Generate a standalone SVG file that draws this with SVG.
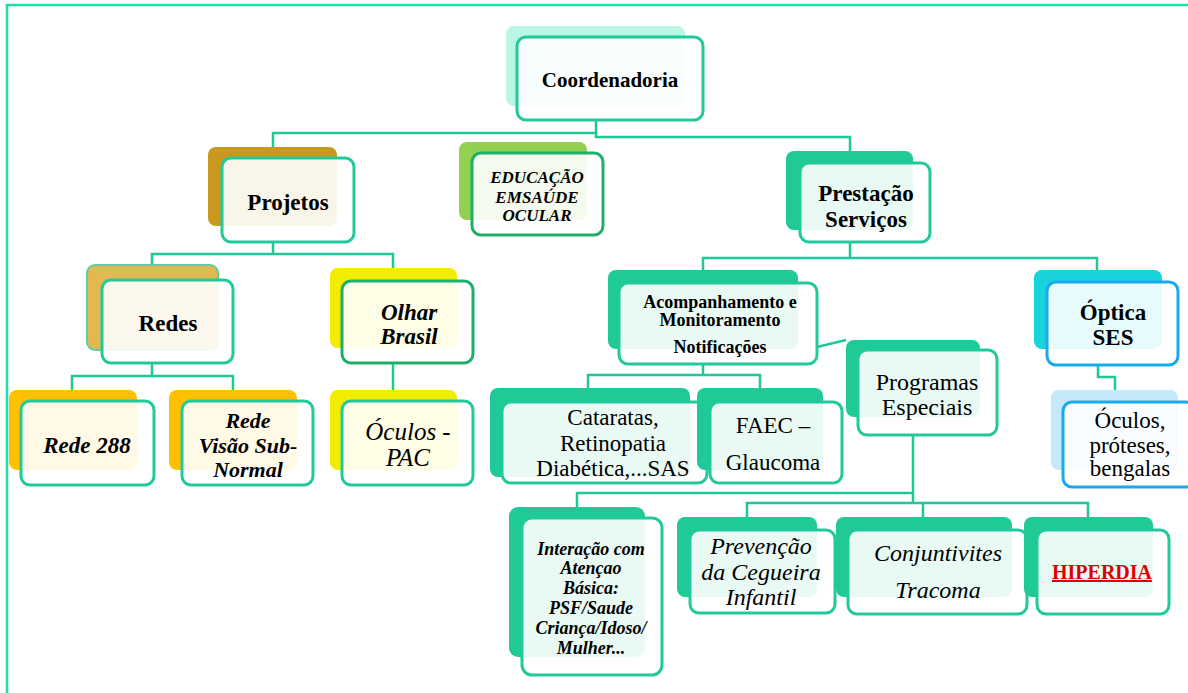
<svg xmlns="http://www.w3.org/2000/svg" width="1188" height="693" viewBox="0 0 1188 693" font-family="'Liberation Serif', 'Times New Roman', 'DejaVu Serif', serif">
<style>
.bg{stroke:none}
.fr{fill:#fff;fill-opacity:.9;stroke:#22c99a;stroke-width:3}
.frg{fill:#fff;fill-opacity:.9;stroke:#1cb06c;stroke-width:3}
.frb{fill:#fff;fill-opacity:.9;stroke:#1aa8ee;stroke-width:3}
.cn{fill:none;stroke:#1fc896;stroke-width:2.5}
.t{font-family:'Liberation Serif','Times New Roman','DejaVu Serif',serif;fill:#000;text-anchor:middle}
.bd{font-weight:bold}
.it{font-style:italic}
.red{fill:#e00000}
</style>
<rect width="1188" height="693" fill="#fff"/>
<path d="M7,693 V5 H1188" fill="none" stroke="#1de0a8" stroke-width="2.5"/>
<g id="connectors">
<path class="cn" d="M596,120 V133 H273 V148 M596,133 V137 H850 V152"/>
<path class="cn" d="M273,242 V254 M152,266 V254 H393 V268"/>
<path class="cn" d="M850,242 V258 M703,271 V258 H1097 V271"/>
<path class="cn" d="M152,363 V376 M72,391 V376 H233 V391"/>
<path class="cn" d="M393,363 V391"/>
<path class="cn" d="M703,364 V375 M588,389 V375 H760 V389"/>
<path class="cn" d="M817,347 L846,340"/>
<path class="cn" d="M1098,365 V377 H1115 V391"/>
<path class="cn" d="M913,435 V503 M577,508 V493 H913 M747,518 V503 H1088 V518 M923,503 V518"/>
</g>
<g id="coordenadoria">
<rect class="bg" x="506" y="26" width="179" height="80" rx="8" fill="#b9f6e5"/>
<rect class="fr" x="517" y="37" width="186" height="83" rx="9"/>
<text class="t bd" x="610" y="87" font-size="21">Coordenadoria</text>
</g>
<g id="projetos">
<rect class="bg" x="208" y="147" width="129" height="79" rx="8" fill="#c9981f"/>
<rect class="fr" x="222" y="158" width="132" height="84" rx="9"/>
<text class="t bd" x="288" y="210" font-size="23">Projetos</text>
</g>
<g id="educacao">
<rect class="bg" x="459" y="142" width="128" height="78" rx="8" fill="#92d050"/>
<rect class="frg" x="472" y="153" width="131" height="82" rx="9"/>
<text class="t bd it" x="537" y="183" font-size="17">EDUCAÇÃO</text>
<text class="t bd it" x="537" y="203" font-size="17" word-spacing="-4">EM SAÚDE</text>
<text class="t bd it" x="537" y="221" font-size="17">OCULAR</text>
</g>
<g id="prestacao">
<rect class="bg" x="786" y="151" width="127" height="79" rx="8" fill="#1fca96"/>
<rect class="fr" x="800" y="163" width="130" height="79" rx="9"/>
<text class="t bd" x="866" y="201" font-size="23">Prestação</text>
<text class="t bd" x="866" y="227" font-size="23">Serviços</text>
</g>
<g id="redes">
<rect x="87" y="265" width="131" height="85" rx="8" fill="#e2b850" stroke="#5fcf9f" stroke-width="2"/>
<rect class="fr" x="102" y="280" width="131" height="83" rx="9"/>
<text class="t bd" x="168" y="331" font-size="23">Redes</text>
</g>
<g id="olhar-brasil">
<rect class="bg" x="330" y="268" width="127" height="80" rx="8" fill="#f2ec00"/>
<rect class="frg" x="342" y="281" width="131" height="82" rx="9"/>
<text class="t bd it" x="409" y="320" font-size="23">Olhar</text>
<text class="t bd it" x="409" y="344" font-size="23">Brasil</text>
</g>
<g id="rede-288">
<rect class="bg" x="9" y="390" width="128" height="80" rx="8" fill="#ffc000"/>
<rect class="fr" x="21" y="401" width="133" height="84" rx="9"/>
<text class="t bd it" x="87" y="453" font-size="23">Rede 288</text>
</g>
<g id="rede-visao">
<rect class="bg" x="169" y="390" width="128" height="80" rx="8" fill="#ffc000"/>
<rect class="fr" x="182" y="401" width="131" height="84" rx="9"/>
<text class="t bd it" x="248" y="428" font-size="22">Rede</text>
<text class="t bd it" x="248" y="453" font-size="22">Visão Sub-</text>
<text class="t bd it" x="248" y="477" font-size="22">Normal</text>
</g>
<g id="oculos-pac">
<rect class="bg" x="330" y="390" width="127" height="80" rx="8" fill="#f2ec00"/>
<rect class="fr" x="342" y="401" width="131" height="84" rx="9"/>
<text class="t it" x="408" y="440" font-size="25">Óculos -</text>
<text class="t it" x="408" y="466" font-size="25">PAC</text>
</g>
<g id="acompanhamento">
<rect class="bg" x="608" y="270" width="190" height="79" rx="8" fill="#1fca96"/>
<rect class="fr" x="619" y="283" width="198" height="81" rx="9"/>
<text class="t bd" x="720" y="308" font-size="18">Acompanhamento e</text>
<text class="t bd" x="720" y="326" font-size="18">Monitoramento</text>
<text class="t bd" x="720" y="353" font-size="18">Notificações</text>
</g>
<g id="cataratas">
<rect class="bg" x="490" y="388" width="200" height="89" rx="8" fill="#1fca96"/>
<rect class="fr" x="502" y="402" width="205" height="81" rx="9"/>
<text class="t" x="613" y="425" font-size="23">Cataratas,</text>
<text class="t" x="613" y="451" font-size="23">Retinopatia</text>
<text class="t" x="613" y="476" font-size="23">Diabética,...SAS</text>
</g>
<g id="faec">
<rect class="bg" x="697" y="388" width="126" height="82" rx="8" fill="#1fca96"/>
<rect class="fr" x="710" y="402" width="132" height="81" rx="9"/>
<text class="t" x="773" y="433" font-size="23">FAEC –</text>
<text class="t" x="773" y="470" font-size="23">Glaucoma</text>
</g>
<g id="programas">
<rect class="bg" x="846" y="340" width="134" height="77" rx="8" fill="#1fca96"/>
<rect class="fr" x="858" y="350" width="139" height="85" rx="9"/>
<text class="t" x="927" y="390" font-size="24">Programas</text>
<text class="t" x="927" y="415" font-size="24">Especiais</text>
</g>
<g id="optica">
<rect class="bg" x="1034" y="270" width="128" height="79" rx="8" fill="#18d3dc"/>
<rect class="frb" x="1047" y="282" width="131" height="83" rx="9"/>
<text class="t bd" x="1113" y="320" font-size="23">Óptica</text>
<text class="t bd" x="1113" y="345" font-size="23">SES</text>
</g>
<g id="oculos-proteses">
<rect class="bg" x="1051" y="390" width="127" height="80" rx="8" fill="#c6e8fb"/>
<rect class="frb" x="1063" y="402" width="132" height="85" rx="9"/>
<text class="t" x="1130" y="428" font-size="23">Óculos,</text>
<text class="t" x="1130" y="453" font-size="23">próteses,</text>
<text class="t" x="1130" y="476" font-size="23">bengalas</text>
</g>
<g id="interacao">
<rect class="bg" x="509" y="507" width="136" height="150" rx="9" fill="#1fca96"/>
<rect class="fr" x="522" y="518" width="140" height="157" rx="10"/>
<text class="t bd it" x="591" y="555" font-size="18">Interação com</text>
<text class="t bd it" x="591" y="574" font-size="18">Atençao</text>
<text class="t bd it" x="591" y="594" font-size="18">Básica:</text>
<text class="t bd it" x="591" y="614" font-size="18">PSF/Saude</text>
<text class="t bd it" x="591" y="634" font-size="18">Criança/Idoso/</text>
<text class="t bd it" x="591" y="654" font-size="18">Mulher...</text>
</g>
<g id="prevencao">
<rect class="bg" x="677" y="517" width="140" height="80" rx="8" fill="#1fca96"/>
<rect class="fr" x="690" y="530" width="145" height="83" rx="9"/>
<text class="t it" x="761" y="554" font-size="24">Prevenção</text>
<text class="t it" x="761" y="580" font-size="24">da Cegueira</text>
<text class="t it" x="761" y="605" font-size="24">Infantil</text>
</g>
<g id="conjuntivites">
<rect class="bg" x="836" y="517" width="176" height="80" rx="8" fill="#1fca96"/>
<rect class="fr" x="848" y="530" width="179" height="84" rx="9"/>
<text class="t it" x="938" y="561" font-size="24">Conjuntivites</text>
<text class="t it" x="938" y="598" font-size="24">Tracoma</text>
</g>
<g id="hiperdia">
<rect class="bg" x="1024" y="517" width="129" height="80" rx="8" fill="#1fca96"/>
<rect class="fr" x="1037" y="530" width="132" height="84" rx="9"/>
<text class="t bd red" x="1102" y="579" font-size="20" text-decoration="underline">HIPERDIA</text>
</g>
</svg>
